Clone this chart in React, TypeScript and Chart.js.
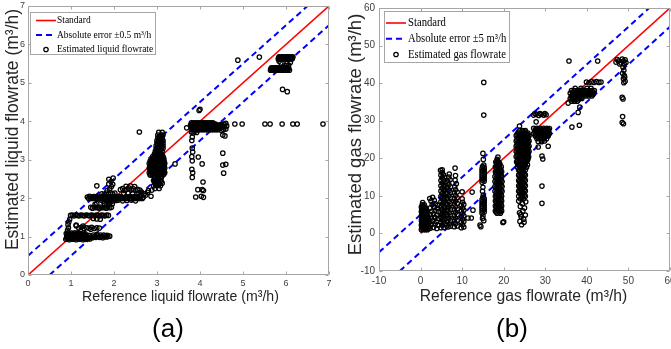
import React, { useEffect, useRef } from 'react';
import { Chart, registerables } from 'chart.js';

Chart.register(...registerables);

type Pt = [number, number];

// ================= Panel (a): liquid flowrate =================
const liqAxis = { min: 0, max: 7, step: 1 };
const liqStandard: Pt[] = [[0, 0], [7, 7]];
const liqErrUpper: Pt[] = [[0, 0.5], [6.5, 7]];
const liqErrLower: Pt[] = [[0.5, 0], [7, 6.5]];
const liqLabels = ['Standard', 'Absolute error ±0.5 m³/h', 'Estimated liquid flowrate'];

const liqGroup1: Pt[] = [
  [0.88, 0.93], [0.92, 0.96], [0.96, 0.92], [1.0, 0.95], [1.04, 0.93], [1.08, 0.96], [1.12, 0.92], [1.16, 0.95], [1.2, 0.93], [1.24, 0.96], [1.28, 0.92], [1.32, 0.95], [1.36, 0.93], [1.4, 0.96], [1.44, 0.94],
  [0.9, 1.01], [0.94, 1.03], [0.98, 0.99], [1.02, 1.02], [1.06, 1.0], [1.1, 1.03], [1.14, 0.99], [1.18, 1.02], [1.22, 1.0], [1.26, 1.03], [1.3, 0.99], [1.34, 1.02], [1.38, 1.0], [1.42, 1.03], [1.46, 0.99],
  [0.89, 1.08], [0.93, 1.1], [0.97, 1.07], [1.01, 1.09], [1.05, 1.07], [1.09, 1.1], [1.13, 1.07], [1.17, 1.09], [1.21, 1.08], [1.25, 1.06], [1.29, 1.09], [1.33, 1.07],
  [1.5, 0.97], [1.54, 1.0], [1.58, 0.98], [1.62, 1.01], [1.66, 0.98], [1.7, 1.0], [1.74, 0.97], [1.78, 1.01], [1.82, 0.99], [1.86, 1.0], [1.9, 1.01],
  [1.52, 1.04], [1.6, 1.05], [1.68, 1.04], [1.76, 1.04], [1.84, 1.03],
  [0.92, 1.16], [0.94, 1.23], [0.93, 1.31], [0.95, 1.38], [0.97, 1.45],
  [0.9, 0.965], [0.94, 0.965], [0.98, 0.965], [1.02, 0.965], [1.06, 0.965], [1.1, 0.965], [1.14, 0.965], [1.18, 0.965], [1.22, 0.965], [1.26, 0.965], [1.3, 0.965], [1.34, 0.965], [1.38, 0.965], [1.42, 0.965],
  [0.91, 1.045], [0.95, 1.045], [0.99, 1.045], [1.03, 1.045], [1.07, 1.045], [1.11, 1.045], [1.15, 1.045], [1.19, 1.045], [1.23, 1.045], [1.27, 1.045], [1.31, 1.045],
];
const liqGroup125: Pt[] = [
  [1.12, 1.28], [1.18, 1.22], [1.24, 1.24], [1.3, 1.21], [1.36, 1.23], [1.42, 1.22], [1.48, 1.24], [1.54, 1.21], [1.6, 1.23], [1.66, 1.22], [1.28, 1.27], [1.46, 1.19],
];
const liqGroup155: Pt[] = [
  [0.99, 1.55], [1.03, 1.56], [1.07, 1.54], [1.11, 1.56], [1.15, 1.55], [1.19, 1.54], [1.23, 1.56], [1.27, 1.55], [1.31, 1.54], [1.35, 1.56], [1.39, 1.55], [1.43, 1.54],
  [1.47, 1.56], [1.51, 1.55], [1.55, 1.54], [1.59, 1.56], [1.63, 1.55], [1.67, 1.54], [1.71, 1.56], [1.75, 1.55], [1.79, 1.54], [1.83, 1.56], [1.87, 1.55],
  [1.52, 1.47], [1.6, 1.46], [1.68, 1.45],
];
const liqGroup175: Pt[] = [
  [1.46, 1.76], [1.5, 1.74], [1.54, 1.77], [1.58, 1.75], [1.62, 1.76], [1.66, 1.74], [1.7, 1.77], [1.74, 1.75], [1.78, 1.76], [1.82, 1.74], [1.86, 1.77], [1.9, 1.75], [1.94, 1.76],
  [1.56, 1.84], [1.6, 1.86],
];
const liqGroup2: Pt[] = [
  [1.38, 2.03], [1.43, 2.05], [1.48, 2.02], [1.53, 2.04], [1.58, 2.03], [1.63, 2.05], [1.68, 2.02], [1.73, 2.04], [1.78, 2.03], [1.83, 2.05], [1.88, 2.02], [1.93, 2.04], [1.98, 2.03], [2.03, 2.05],
  [2.08, 2.02], [2.13, 2.04], [2.18, 2.03], [2.23, 2.01], [2.28, 2.04], [2.33, 2.02], [2.38, 2.05], [2.43, 2.02], [2.48, 2.04], [2.53, 2.03], [2.58, 2.01], [2.63, 2.04], [2.68, 2.02],
  [1.7, 1.95], [1.75, 1.92], [1.8, 1.96], [1.85, 1.93], [1.9, 1.95], [1.95, 1.92], [2.0, 1.96], [2.05, 1.94], [2.1, 1.95], [2.2, 1.93], [2.3, 1.94], [2.4, 1.95], [2.5, 1.93],
  [1.72, 2.11], [1.77, 2.09], [1.82, 2.13], [1.87, 2.1], [1.92, 2.14], [1.97, 2.11], [2.02, 2.13], [1.84, 2.2], [1.9, 2.24], [1.94, 2.3], [1.88, 2.37], [1.93, 2.43], [1.97, 2.36],
  [1.78, 1.86], [1.84, 1.84], [1.9, 1.87], [1.96, 1.85],
  [1.41, 1.99], [1.46, 1.99], [1.51, 1.99], [1.56, 1.99], [1.61, 1.99], [1.66, 1.99], [1.71, 1.99], [1.76, 1.99], [1.81, 1.99], [1.86, 1.99], [1.91, 1.99], [1.96, 1.99], [2.01, 1.99],
  [2.06, 1.99], [2.11, 1.99], [2.16, 1.99], [2.21, 1.99], [2.26, 1.99], [2.31, 1.99], [2.36, 1.99], [2.41, 1.99], [2.46, 1.99], [2.51, 1.99], [2.56, 1.99], [2.61, 1.99], [2.66, 1.99],
];
const liqGroup22: Pt[] = [
  [2.15, 2.22], [2.2, 2.25], [2.25, 2.2], [2.3, 2.23], [2.35, 2.26], [2.4, 2.21], [2.45, 2.24], [2.5, 2.2], [2.55, 2.23], [2.6, 2.21], [2.28, 2.31], [2.38, 2.32], [2.48, 2.3],
  [2.58, 2.14], [2.64, 2.16], [2.7, 2.11], [2.74, 2.08], [2.78, 2.15], [2.86, 2.05], [2.8, 2.2], [2.88, 2.21], [2.23, 2.12], [2.33, 2.13], [2.43, 2.12], [2.53, 2.12],
];
const liqGroup3: Pt[] = [
  [2.95, 2.25], [3.05, 2.25],
  [2.92, 2.32], [3.0, 2.32], [3.08, 2.32],
  [2.96, 2.39], [3.04, 2.39], [3.12, 2.39],
  [2.92, 2.46], [3.0, 2.46], [3.08, 2.46],
  [2.94, 2.53], [3.02, 2.53], [3.1, 2.53],
  [2.84, 2.6], [2.9, 2.6], [2.98, 2.6], [3.06, 2.6], [3.14, 2.6],
  [2.82, 2.66], [2.88, 2.66], [2.96, 2.66], [3.04, 2.66], [3.12, 2.66], [3.18, 2.66],
  [2.84, 2.72], [2.92, 2.72], [3.0, 2.72], [3.08, 2.72], [3.16, 2.72],
  [2.82, 2.78], [2.88, 2.78], [2.96, 2.78], [3.04, 2.78], [3.12, 2.78], [3.18, 2.78],
  [2.84, 2.84], [2.92, 2.84], [3.0, 2.84], [3.08, 2.84], [3.16, 2.84],
  [2.82, 2.9], [2.88, 2.9], [2.96, 2.9], [3.04, 2.9], [3.12, 2.9], [3.18, 2.9],
  [2.84, 2.96], [2.92, 2.96], [3.0, 2.96], [3.08, 2.96], [3.16, 2.96],
  [2.86, 3.02], [2.94, 3.02], [3.02, 3.02], [3.1, 3.02], [3.16, 3.02],
  [2.9, 3.08], [2.98, 3.08], [3.06, 3.08], [3.14, 3.08],
  [2.94, 3.15], [3.02, 3.15], [3.1, 3.15],
  [2.96, 3.22], [3.04, 3.22], [3.12, 3.22],
  [2.98, 3.29], [3.06, 3.29], [3.14, 3.29],
  [2.98, 3.36], [3.06, 3.36], [3.14, 3.36],
  [3.0, 3.43], [3.08, 3.43], [3.14, 3.43],
  [3.0, 3.5], [3.08, 3.5], [3.14, 3.5],
  [3.02, 3.57], [3.1, 3.57],
  [3.02, 3.64], [3.1, 3.64], [3.14, 3.64],
  [3.04, 3.71], [3.12, 3.71],
  [2.85, 2.63], [2.93, 2.63], [3.01, 2.63], [3.09, 2.63], [3.16, 2.63],
  [2.86, 2.69], [2.94, 2.69], [3.02, 2.69], [3.1, 2.69], [3.17, 2.69],
  [2.85, 2.75], [2.93, 2.75], [3.01, 2.75], [3.09, 2.75], [3.16, 2.75],
  [2.86, 2.81], [2.94, 2.81], [3.02, 2.81], [3.1, 2.81], [3.17, 2.81],
  [2.85, 2.87], [2.93, 2.87], [3.01, 2.87], [3.09, 2.87], [3.16, 2.87],
  [2.86, 2.93], [2.94, 2.93], [3.02, 2.93], [3.1, 2.93], [3.17, 2.93],
  [2.88, 2.99], [2.96, 2.99], [3.04, 2.99], [3.12, 2.99],
  [2.92, 3.05], [3.0, 3.05], [3.08, 3.05], [3.14, 3.05],
  [2.96, 3.12], [3.04, 3.12], [3.12, 3.12],
  [2.98, 3.19], [3.06, 3.19], [3.0, 3.26], [3.08, 3.26], [3.02, 3.33], [3.1, 3.33], [3.02, 3.4], [3.1, 3.4],
  [3.04, 3.47], [3.11, 3.47], [3.05, 3.54], [3.12, 3.54], [3.06, 3.61], [3.12, 3.61],
  [2.96, 2.36], [3.04, 2.36], [2.94, 2.43], [3.02, 2.43], [3.1, 2.43], [2.96, 2.5], [3.04, 2.5], [2.94, 2.56], [3.02, 2.56], [3.1, 2.56],
];
const liqGroup39: Pt[] = [
  [3.82, 3.78], [3.87, 3.78], [3.92, 3.78], [3.97, 3.78], [4.02, 3.78], [4.07, 3.78], [4.12, 3.78], [4.17, 3.78], [4.22, 3.78], [4.27, 3.78], [4.32, 3.78], [4.37, 3.78], [4.42, 3.78],
  [3.8, 3.84], [3.85, 3.84], [3.9, 3.84], [3.95, 3.84], [4.0, 3.84], [4.05, 3.84], [4.1, 3.84], [4.15, 3.84], [4.2, 3.84], [4.25, 3.84], [4.3, 3.84], [4.35, 3.84], [4.4, 3.84], [4.45, 3.84],
  [3.78, 3.9], [3.83, 3.9], [3.88, 3.9], [3.93, 3.9], [3.98, 3.9], [4.03, 3.9], [4.08, 3.9], [4.13, 3.9], [4.18, 3.9], [4.23, 3.9], [4.28, 3.9], [4.33, 3.9], [4.38, 3.9], [4.43, 3.9], [4.48, 3.9],
  [3.8, 3.96], [3.85, 3.96], [3.9, 3.96], [3.95, 3.96], [4.0, 3.96], [4.05, 3.96], [4.1, 3.96], [4.15, 3.96], [4.2, 3.96], [4.25, 3.96], [4.3, 3.96],
  [4.5, 3.76], [4.55, 3.78], [4.6, 3.8], [4.52, 3.84], [4.57, 3.86], [4.62, 3.88], [4.5, 3.92], [4.56, 3.93], [4.6, 3.95], [4.47, 3.83],
  [3.8, 3.72], [3.84, 3.7], [3.88, 3.74], [3.92, 3.71],
  [3.84, 3.81], [3.89, 3.81], [3.94, 3.81], [3.99, 3.81], [4.04, 3.81], [4.09, 3.81], [4.14, 3.81], [4.19, 3.81], [4.24, 3.81], [4.29, 3.81], [4.34, 3.81], [4.39, 3.81], [4.44, 3.81],
  [3.81, 3.87], [3.86, 3.87], [3.91, 3.87], [3.96, 3.87], [4.01, 3.87], [4.06, 3.87], [4.11, 3.87], [4.16, 3.87], [4.21, 3.87], [4.26, 3.87], [4.31, 3.87], [4.36, 3.87], [4.41, 3.87], [4.46, 3.87],
  [3.81, 3.93], [3.86, 3.93], [3.91, 3.93], [3.96, 3.93], [4.01, 3.93], [4.06, 3.93], [4.11, 3.93], [4.16, 3.93], [4.21, 3.93], [4.26, 3.93], [4.31, 3.93], [4.36, 3.93],
];
const liqGroup55: Pt[] = [
  [5.82, 5.62], [5.86, 5.62], [5.9, 5.62], [5.94, 5.62], [5.98, 5.62], [6.02, 5.62], [6.06, 5.62], [6.1, 5.62], [6.14, 5.62],
  [5.84, 5.68], [5.88, 5.68], [5.92, 5.68], [5.96, 5.68], [6.0, 5.68], [6.04, 5.68], [6.08, 5.68], [6.12, 5.68], [6.16, 5.68],
  [5.64, 5.33], [5.68, 5.33], [5.72, 5.33], [5.76, 5.33], [5.8, 5.33], [5.84, 5.33], [5.88, 5.33], [5.92, 5.33], [5.96, 5.33], [6.0, 5.33], [6.04, 5.33], [6.08, 5.33],
  [5.66, 5.39], [5.7, 5.39], [5.74, 5.39], [5.78, 5.39], [5.82, 5.39], [5.86, 5.39], [5.9, 5.39], [5.94, 5.39], [5.98, 5.39], [6.02, 5.39], [6.06, 5.39],
  [5.98, 5.45], [6.02, 5.5], [6.06, 5.46], [6.1, 5.53], [5.84, 5.56], [5.88, 5.52],
  [5.83, 5.65], [5.87, 5.65], [5.91, 5.65], [5.95, 5.65], [5.99, 5.65], [6.03, 5.65], [6.07, 5.65], [6.11, 5.65], [6.15, 5.65],
  [5.65, 5.36], [5.69, 5.36], [5.73, 5.36], [5.77, 5.36], [5.81, 5.36], [5.85, 5.36], [5.89, 5.36], [5.93, 5.36], [5.97, 5.36], [6.01, 5.36], [6.05, 5.36],
];
const liqOutliers: Pt[] = [
  [4.88, 5.59], [5.38, 5.67], [5.92, 4.83], [6.03, 4.77], [4.0, 4.31], [3.98, 4.28], [2.59, 3.72], [3.42, 2.89], [3.69, 3.83],
  [3.82, 3.59], [3.81, 3.5], [3.82, 3.3], [3.83, 3.2], [3.81, 3.08], [3.82, 2.97], [3.81, 2.75], [3.83, 2.66], [3.82, 2.54],
  [3.96, 3.07], [4.05, 2.89], [4.07, 2.42], [3.95, 2.22], [4.05, 2.22], [4.08, 2.2], [3.9, 2.03], [4.03, 2.05], [4.08, 2.02],
  [4.53, 3.64], [4.58, 3.62], [4.53, 3.17], [4.53, 2.86], [4.6, 2.88], [4.55, 2.65],
  [4.81, 3.93], [4.98, 3.93], [5.51, 3.93], [5.63, 3.93], [5.91, 3.93], [6.16, 3.93], [6.26, 3.93], [6.86, 3.93],
  [1.6, 2.32], [1.88, 2.49], [1.98, 2.52], [1.12, 1.3],
];
const liqPoints: Pt[] = [
  ...liqGroup1, ...liqGroup125, ...liqGroup155, ...liqGroup175, ...liqGroup2, ...liqGroup22,
  ...liqGroup3, ...liqGroup39, ...liqGroup55, ...liqOutliers,
];

// ================= Panel (b): gas flowrate =================
const gasAxis = { min: -10, max: 60, step: 10 };
const gasStandard: Pt[] = [[0, 0], [60, 60]];
const gasErrUpper: Pt[] = [[-10, -5], [55, 60]];
const gasErrLower: Pt[] = [[-5, -10], [60, 55]];
const gasLabels = ['Standard', 'Absolute error ±5 m³/h', 'Estimated gas flowrate'];

const gasGroup0: Pt[] = [
  [0.2, 1.0], [0.7, 1.0], [1.2, 1.0], [1.7, 1.0],
  [0.4, 1.6], [0.9, 1.6], [1.4, 1.6], [1.9, 1.6],
  [0.2, 2.2], [0.7, 2.2], [1.2, 2.2], [1.7, 2.2],
  [0.4, 2.8], [0.9, 2.8], [1.4, 2.8], [1.9, 2.8],
  [0.2, 3.4], [0.7, 3.4], [1.2, 3.4], [1.7, 3.4],
  [0.4, 4.0], [0.9, 4.0], [1.4, 4.0], [1.9, 4.0],
  [0.2, 4.6], [0.7, 4.6], [1.2, 4.6], [1.7, 4.6],
  [0.4, 5.2], [0.9, 5.2], [1.4, 5.2],
  [0.2, 5.8], [0.7, 5.8], [1.2, 5.8], [1.6, 5.8],
  [0.3, 6.4], [0.8, 6.4], [1.3, 6.4],
  [0.2, 7.0], [0.7, 7.0], [1.1, 7.0],
  [0.4, 7.6], [0.9, 7.6], [0.5, 8.2],
  [0.45, 1.3], [0.95, 1.3], [1.45, 1.3], [0.45, 1.9], [0.95, 1.9], [1.45, 1.9], [0.45, 2.5], [0.95, 2.5], [1.45, 2.5],
  [0.45, 3.1], [0.95, 3.1], [1.45, 3.1], [0.45, 3.7], [0.95, 3.7], [1.45, 3.7], [0.45, 4.3], [0.95, 4.3], [1.45, 4.3],
  [0.45, 4.9], [0.95, 4.9], [1.45, 4.9], [0.45, 5.5], [0.95, 5.5], [1.45, 5.5], [0.45, 6.1], [0.95, 6.1], [0.45, 6.7], [0.95, 6.7], [0.5, 7.3],
];
const gasGroup3: Pt[] = [
  [2.3, 1.4], [3.1, 1.6], [3.9, 1.3], [2.6, 2.3], [3.5, 2.5], [4.2, 2.2], [2.2, 3.2], [3.0, 3.4], [3.8, 3.1], [2.6, 4.1], [3.4, 4.3], [4.2, 4.0],
  [2.3, 5.0], [3.1, 5.2], [3.9, 4.9], [2.7, 5.9], [3.5, 6.1], [4.3, 5.8], [2.4, 6.8], [3.2, 7.0], [4.0, 6.7], [2.8, 7.7], [3.6, 7.9], [2.5, 8.6],
  [3.3, 8.8], [2.9, 9.6], [2.2, 9.3], [4.1, 7.5],
];
const gasGroup5: Pt[] = [
  [4.9, 1.5], [5.6, 1.6], [5.2, 2.2], [5.9, 2.3], [4.9, 2.9], [5.6, 3.0], [5.2, 3.6], [5.8, 3.7], [4.9, 4.3], [5.6, 4.4], [5.2, 5.0], [5.9, 5.1],
  [4.9, 5.7], [5.6, 5.8], [5.2, 6.4], [5.8, 6.5], [4.9, 7.1], [5.6, 7.2], [5.2, 7.8], [5.9, 7.9], [4.9, 8.5], [5.6, 8.6], [5.2, 9.2], [5.8, 9.3],
  [4.9, 9.9], [5.6, 10.0], [5.2, 10.6], [5.9, 10.7], [4.9, 11.3], [5.6, 11.4], [5.2, 12.0], [5.8, 12.1], [4.9, 12.7], [5.6, 12.8], [5.2, 13.4],
  [5.9, 13.5], [4.9, 14.1], [5.6, 14.2], [5.2, 14.8], [5.8, 14.9], [4.9, 15.5], [5.5, 15.6], [5.2, 16.2], [4.8, 16.8],
];
const gasGroup7: Pt[] = [
  [6.6, 1.7], [7.2, 1.9], [6.9, 2.5], [6.5, 3.2], [7.2, 3.4], [6.8, 4.0], [6.5, 4.7], [7.2, 4.9], [6.9, 5.5], [6.5, 6.2], [7.2, 6.4], [6.8, 7.0],
  [6.5, 7.7], [7.2, 7.9], [6.9, 8.5], [6.5, 9.2], [7.2, 9.4], [6.8, 10.0], [6.5, 10.7], [7.2, 10.9], [6.9, 11.5], [6.5, 12.2], [7.2, 12.4],
  [6.8, 13.0], [6.6, 13.7], [7.1, 14.3], [6.8, 15.0], [6.9, 15.8],
];
const gasGroup8: Pt[] = [
  [8.1, 1.8], [8.8, 2.0], [8.4, 2.6], [8.1, 3.3], [8.8, 3.5], [8.4, 4.1], [8.1, 4.8], [8.8, 5.0], [8.4, 5.6], [8.1, 6.3], [8.8, 6.5], [8.4, 7.1],
  [8.1, 7.8], [8.8, 8.0], [8.4, 8.6], [8.1, 9.3], [8.8, 9.5], [8.4, 10.1], [8.1, 10.8], [8.8, 11.0], [8.4, 11.6], [8.2, 12.4], [8.6, 13.2],
  [8.3, 14.2], [8.4, 15.4],
];
const gasGroup10: Pt[] = [
  [9.8, 1.5], [10.4, 1.7], [10.1, 2.3], [9.8, 3.0], [10.4, 3.2], [10.1, 3.8], [9.8, 4.5], [10.4, 4.7], [10.1, 5.3], [9.8, 6.0], [10.4, 6.2],
  [10.1, 6.8], [9.8, 7.5], [10.4, 7.7], [10.1, 8.3], [10.0, 9.2],
];
const gasGroup15: Pt[] = [
  [15.0, 21.3], [15.1, 19.7], [15.0, 12.3], [14.9, 11.2], [15.1, 10.2], [15.0, 4.6], [14.9, 4.0], [15.2, 3.4], [14.3, 2.2], [14.5, 1.8],
  [14.8, 13.6], [15.3, 13.9], [14.8, 14.2], [15.3, 14.5], [14.8, 14.8], [15.3, 15.1], [14.8, 15.4], [15.3, 15.7], [14.8, 16.0], [15.3, 16.3],
  [14.8, 16.6], [15.3, 16.9], [14.8, 17.2], [15.3, 17.5], [14.9, 17.8], [15.2, 18.2],
  [14.8, 5.4], [15.3, 5.7], [14.8, 6.0], [15.3, 6.3], [14.8, 6.6], [15.3, 6.9], [14.8, 7.2], [15.3, 7.5], [14.8, 7.8], [15.3, 8.1],
  [14.8, 8.4], [15.3, 8.7], [14.8, 9.0], [15.3, 9.3], [15.0, 9.6],
];
const gasGroup19: Pt[] = [
  [18.4, 5.4], [19.2, 5.4],
  [18.0, 6.0], [18.8, 6.0], [19.5, 6.0],
  [18.4, 6.7], [19.2, 6.7],
  [18.0, 7.3], [18.8, 7.3], [19.5, 7.3],
  [18.4, 8.0], [19.2, 8.0],
  [18.0, 8.6], [18.8, 8.6], [19.5, 8.6],
  [18.4, 9.3], [19.2, 9.3],
  [18.0, 9.9], [18.8, 9.9], [19.5, 9.9],
  [18.4, 10.6], [19.2, 10.6],
  [17.9, 11.2], [18.8, 11.2], [19.6, 11.2],
  [18.4, 11.9], [19.2, 11.9],
  [17.9, 12.5], [18.8, 12.5], [19.6, 12.5],
  [18.4, 13.2], [19.2, 13.2],
  [17.9, 13.8], [18.8, 13.8], [19.6, 13.8],
  [18.4, 14.5], [19.2, 14.5],
  [17.9, 15.1], [18.8, 15.1], [19.5, 15.1],
  [18.4, 15.8], [19.2, 15.8],
  [18.0, 16.4], [18.8, 16.4], [19.5, 16.4],
  [18.4, 17.1], [19.2, 17.1],
  [18.0, 17.7], [18.8, 17.7], [19.4, 17.7],
  [18.4, 18.4], [19.1, 18.4],
  [18.1, 19.0], [18.8, 19.0],
  [18.4, 19.7], [18.6, 20.3],
  [18.2, 5.7], [19.0, 5.7], [18.6, 6.35], [19.35, 6.35], [18.2, 7.0], [19.0, 7.0], [18.6, 7.65], [19.35, 7.65], [18.2, 8.3], [19.0, 8.3],
  [18.6, 8.95], [19.35, 8.95], [18.2, 9.6], [19.0, 9.6], [18.6, 10.25], [19.35, 10.25], [18.2, 10.9], [19.0, 10.9], [18.6, 11.55], [19.4, 11.55],
  [18.2, 12.2], [19.0, 12.2], [18.6, 12.85], [19.4, 12.85], [18.2, 13.5], [19.0, 13.5], [18.6, 14.15], [19.4, 14.15], [18.2, 14.8], [19.0, 14.8],
  [18.6, 15.45], [19.35, 15.45], [18.2, 16.1], [19.0, 16.1], [18.6, 16.75], [19.3, 16.75], [18.2, 17.4], [19.0, 17.4], [18.6, 18.05], [18.3, 18.7], [18.9, 18.7], [18.5, 19.35],
];
const gasGroup24: Pt[] = [
  [23.8, 27.4], [24.6, 27.4], [25.2, 27.4],
  [23.4, 26.7], [24.2, 26.7], [25.0, 26.7], [25.8, 26.7],
  [23.0, 26.0], [23.8, 26.0], [24.6, 26.0], [25.4, 26.0], [26.1, 26.0],
  [23.4, 25.3], [24.2, 25.3], [25.0, 25.3], [25.8, 25.3],
  [23.0, 24.6], [23.8, 24.6], [24.6, 24.6], [25.4, 24.6], [26.1, 24.6],
  [23.4, 23.9], [24.2, 23.9], [25.0, 23.9], [25.8, 23.9],
  [23.0, 23.2], [23.8, 23.2], [24.6, 23.2], [25.4, 23.2], [26.1, 23.2],
  [23.4, 22.5], [24.2, 22.5], [25.0, 22.5], [25.8, 22.5],
  [23.0, 21.8], [23.8, 21.8], [24.6, 21.8], [25.4, 21.8], [26.1, 21.8],
  [23.4, 21.1], [24.2, 21.1], [25.0, 21.1], [25.8, 21.1],
  [23.0, 20.4], [23.8, 20.4], [24.6, 20.4], [25.4, 20.4], [26.0, 20.4],
  [23.4, 19.7], [24.2, 19.7], [25.0, 19.7], [25.8, 19.7],
  [23.1, 19.0], [23.8, 19.0], [24.6, 19.0], [25.4, 19.0],
  [23.4, 18.3], [24.2, 18.3], [25.0, 18.3], [25.7, 18.3],
  [23.3, 17.6], [24.0, 17.6], [24.8, 17.6], [25.5, 17.6],
  [23.6, 16.9], [24.4, 16.9], [25.2, 16.9],
  [24.0, 16.2], [24.8, 16.2],
  [23.6, 15.5], [24.4, 15.5], [25.2, 15.5],
  [24.0, 14.8], [24.8, 14.8],
  [23.6, 14.1], [24.4, 14.1], [25.2, 14.1],
  [24.0, 13.4], [24.8, 13.4],
  [23.6, 12.7], [24.4, 12.7], [25.2, 12.7],
  [24.0, 12.0], [24.8, 12.0],
  [23.6, 11.3], [24.4, 11.3], [25.2, 11.3],
  [24.0, 10.6], [24.8, 10.6],
  [23.6, 9.9], [24.4, 9.9], [25.2, 9.9],
  [24.0, 9.2], [24.8, 9.2],
  [24.3, 2.3], [23.9, 3.2], [24.8, 3.8], [24.2, 4.4], [25.2, 4.9], [23.8, 5.5], [24.6, 6.0], [25.0, 6.8], [24.0, 7.2],
  [24.5, 7.9], [25.3, 8.4], [23.6, 8.6], [24.9, 3.0], [24.1, 5.0],
  [23.6, 27.0], [24.4, 27.0], [25.2, 27.0], [23.2, 26.35], [24.0, 26.35], [24.8, 26.35], [25.6, 26.35], [23.6, 25.65], [24.4, 25.65], [25.2, 25.65], [25.9, 25.65],
  [23.2, 24.95], [24.0, 24.95], [24.8, 24.95], [25.6, 24.95], [23.6, 24.25], [24.4, 24.25], [25.2, 24.25], [25.9, 24.25],
  [23.2, 23.55], [24.0, 23.55], [24.8, 23.55], [25.6, 23.55], [23.6, 22.85], [24.4, 22.85], [25.2, 22.85], [25.9, 22.85],
  [23.2, 22.15], [24.0, 22.15], [24.8, 22.15], [25.6, 22.15], [23.6, 21.45], [24.4, 21.45], [25.2, 21.45], [25.9, 21.45],
  [23.2, 20.75], [24.0, 20.75], [24.8, 20.75], [25.6, 20.75], [23.6, 20.05], [24.4, 20.05], [25.2, 20.05], [25.8, 20.05],
  [23.3, 19.35], [24.0, 19.35], [24.8, 19.35], [25.6, 19.35], [23.6, 18.65], [24.4, 18.65], [25.2, 18.65], [23.7, 18.0], [24.4, 18.0], [25.1, 18.0],
  [23.8, 16.55], [24.6, 16.55], [24.2, 15.85], [25.0, 15.85], [23.8, 15.15], [24.6, 15.15], [24.2, 14.45], [25.0, 14.45], [23.8, 13.75], [24.6, 13.75],
  [24.2, 13.05], [25.0, 13.05], [23.8, 12.35], [24.6, 12.35], [24.2, 11.65], [25.0, 11.65], [23.8, 10.95], [24.6, 10.95], [24.2, 10.25], [25.0, 10.25], [24.4, 9.55],
];
const gasGroup28: Pt[] = [
  [27.2, 28.0], [28.0, 28.0], [28.8, 28.0], [29.6, 28.0], [30.4, 28.0], [31.0, 27.9],
  [27.6, 27.3], [28.4, 27.3], [29.2, 27.3], [30.0, 27.3], [30.8, 27.3],
  [27.2, 26.6], [28.0, 26.6], [28.8, 26.6], [29.6, 26.6], [30.4, 26.6], [31.0, 26.6],
  [27.6, 25.9], [28.4, 25.9], [29.2, 25.9], [30.0, 25.9], [30.7, 25.9],
  [28.0, 25.2], [28.8, 25.2], [29.6, 25.2], [30.3, 25.2],
  [28.3, 24.5], [29.1, 24.4], [29.8, 24.6],
  [27.6, 27.65], [28.4, 27.65], [29.2, 27.65], [30.0, 27.65], [30.7, 27.65], [27.6, 26.95], [28.4, 26.95], [29.2, 26.95], [30.0, 26.95], [30.7, 26.95],
  [27.6, 26.25], [28.4, 26.25], [29.2, 26.25], [30.0, 26.25], [30.7, 26.25], [28.2, 25.55], [29.0, 25.55], [29.8, 25.55],
  [27.2, 31.5], [27.8, 31.7], [28.4, 31.4], [29.0, 31.7], [29.6, 31.5], [30.2, 31.6], [27.5, 31.9], [28.7, 31.9], [29.9, 31.9],
];
const gasGroup37: Pt[] = [
  [36.3, 35.2], [37.0, 35.2], [37.7, 35.2],
  [36.0, 35.9], [36.7, 35.9], [37.4, 35.9], [38.1, 35.9], [38.8, 35.9],
  [36.3, 36.6], [37.0, 36.6], [37.7, 36.6], [38.4, 36.6], [39.1, 36.6], [39.8, 36.6], [40.5, 36.6], [41.2, 36.6],
  [36.0, 37.3], [36.7, 37.3], [37.4, 37.3], [38.1, 37.3], [38.8, 37.3], [39.5, 37.3], [40.2, 37.3], [40.9, 37.3], [41.6, 37.3],
  [36.3, 38.0], [37.0, 38.0], [37.7, 38.0], [38.4, 38.0], [39.1, 38.0], [39.8, 38.0], [40.5, 38.0], [41.2, 38.0], [41.8, 38.0],
  [37.2, 38.6], [38.6, 38.6], [40.0, 38.6], [41.0, 38.6],
  [36.6, 35.55], [37.3, 35.55], [38.0, 35.55], [36.6, 36.25], [37.3, 36.25], [38.0, 36.25], [38.7, 36.25],
  [36.6, 36.95], [37.3, 36.95], [38.0, 36.95], [38.7, 36.95], [39.4, 36.95], [40.1, 36.95], [40.8, 36.95], [41.5, 36.95],
  [36.6, 37.65], [37.3, 37.65], [38.0, 37.65], [38.7, 37.65], [39.4, 37.65], [40.1, 37.65], [40.8, 37.65], [41.5, 37.65],
  [39.9, 40.3], [40.5, 40.1], [41.1, 40.4], [41.7, 40.2], [42.3, 40.4], [42.9, 40.2], [43.4, 40.3],
];
const gasGroup48: Pt[] = [
  [47.0, 45.6], [47.6, 45.9], [48.2, 45.4], [48.8, 45.9], [49.4, 45.5], [47.3, 46.3], [48.5, 46.4], [49.2, 46.2], [47.9, 45.1], [49.0, 45.0],
  [48.7, 44.2], [48.9, 43.4], [48.6, 42.6], [49.0, 42.0], [49.1, 41.6], [48.8, 41.2], [49.2, 40.5], [48.9, 40.1],
];
const gasOutliers: Pt[] = [
  [15.2, 40.2], [15.2, 31.5], [23.8, 28.6], [35.5, 34.7], [36.4, 28.3], [38.2, 28.8], [38.3, 33.6], [37.9, 32.2], [35.7, 45.9], [42.6, 45.9],
  [48.5, 36.2], [48.7, 35.8], [48.6, 31.1], [48.5, 29.5], [48.8, 29.2], [27.8, 29.7], [28.3, 23.0], [30.7, 23.2], [29.2, 20.6], [29.4, 19.8],
  [29.2, 12.6], [29.2, 8.0], [19.8, 2.9], [20.0, 3.1], [12.2, 4.1], [11.4, 4.1], [10.0, 11.1], [12.4, 11.0], [12.6, 6.2], [8.3, 17.4],
  [5.2, 16.9],
];
const gasPoints: Pt[] = [
  ...gasGroup0, ...gasGroup3, ...gasGroup5, ...gasGroup7, ...gasGroup8, ...gasGroup10, ...gasGroup15,
  ...gasGroup19, ...gasGroup24, ...gasGroup28, ...gasGroup37, ...gasGroup48, ...gasOutliers,
];

// ================= Plugins =================
const toXY = (arr: Pt[]) => arr.map(([x, y]) => ({ x, y }));

const frameTicksPlugin = {
  id: 'frameTicks',
  afterDatasetsDraw(chart: any, _a: any, o: any) {
    const { ctx, chartArea: a, scales } = chart;
    const len = o.length;
    const L = Math.round(a.left) + 0.5, R = Math.round(a.right) - 0.5;
    const T = Math.round(a.top) + 0.5, B = Math.round(a.bottom) - 0.5;
    ctx.save();
    ctx.strokeStyle = o.color;
    ctx.lineWidth = 1;
    ctx.beginPath();
    ctx.rect(L, T, R - L, B - T);
    scales.x.ticks.forEach((t: any) => {
      const px = Math.round(scales.x.getPixelForValue(t.value)) + 0.5;
      ctx.moveTo(px, B); ctx.lineTo(px, B - len);
      ctx.moveTo(px, T); ctx.lineTo(px, T + len);
    });
    scales.y.ticks.forEach((t: any) => {
      const py = Math.round(scales.y.getPixelForValue(t.value)) + 0.5;
      ctx.moveTo(L, py); ctx.lineTo(L + len, py);
      ctx.moveTo(R, py); ctx.lineTo(R - len, py);
    });
    ctx.stroke();
    ctx.restore();
  },
};

const boxLegendPlugin = {
  id: 'boxLegend',
  afterDraw(chart: any, _a: any, o: any) {
    const ctx = chart.ctx;
    ctx.save();
    ctx.fillStyle = '#ffffff';
    ctx.fillRect(o.left, o.top, o.width, o.height);
    ctx.strokeStyle = o.borderColor;
    ctx.lineWidth = 1;
    ctx.strokeRect(o.left + 0.5, o.top + 0.5, o.width - 1, o.height - 1);
    const items = chart.data.datasets.filter((d: any) => d.inLegend);
    items.forEach((d: any, i: number) => {
      const cy = o.top + o.firstRow + i * o.rowGap;
      const x0 = o.left + o.sampleX0, x1 = o.left + o.sampleX1;
      ctx.save();
      if (d.showLine) {
        ctx.strokeStyle = d.borderColor;
        ctx.lineWidth = d.borderWidth;
        ctx.setLineDash(d.borderDash || []);
        ctx.beginPath();
        ctx.moveTo(x0, cy); ctx.lineTo(x1, cy);
        ctx.stroke();
      } else {
        ctx.strokeStyle = d.borderColor;
        ctx.lineWidth = d.pointBorderWidth;
        ctx.beginPath();
        ctx.arc((x0 + x1) / 2, cy, d.pointRadius, 0, Math.PI * 2);
        ctx.stroke();
      }
      ctx.restore();
      ctx.save();
      ctx.translate(o.left + o.textX, cy);
      ctx.scale(o.sx, 1);
      ctx.font = o.font;
      ctx.fillStyle = '#000000';
      ctx.textAlign = 'left';
      ctx.textBaseline = 'middle';
      ctx.fillText(d.label, 0, 0);
      ctx.restore();
    });
    ctx.restore();
  },
};

const textsPlugin = {
  id: 'texts',
  afterDraw(chart: any, _a: any, o: any) {
    const ctx = chart.ctx;
    (o.items || []).forEach((it: any) => {
      ctx.save();
      ctx.translate(it.x, it.y);
      if (it.rotate) ctx.rotate(it.rotate);
      ctx.scale(it.sx || 1, 1);
      ctx.font = it.font;
      ctx.fillStyle = it.color;
      ctx.textAlign = 'center';
      ctx.textBaseline = 'middle';
      ctx.fillText(it.text, 0, 0);
      ctx.restore();
    });
  },
};

function makeConfig(p: any) {
  const lineBase = { showLine: true, pointRadius: 0, pointHoverRadius: 0, fill: false, order: 1 };
  return {
    type: 'scatter',
    data: {
      datasets: [
        { ...lineBase, label: p.labels[0], data: toXY(p.standard), borderColor: '#ff0000', borderWidth: 1.6, inLegend: true },
        { ...lineBase, label: p.labels[1], data: toXY(p.upper), borderColor: '#0000ff', borderWidth: 2, borderDash: [6, 4], inLegend: true },
        { ...lineBase, label: p.labels[1], data: toXY(p.lower), borderColor: '#0000ff', borderWidth: 2, borderDash: [6, 4], inLegend: false },
        {
          label: p.labels[2], data: toXY(p.points), showLine: false, pointRadius: 2.2, pointHoverRadius: 2.2, pointBorderWidth: 1.25,
          borderColor: '#000000', backgroundColor: 'rgba(0,0,0,0)', pointBackgroundColor: 'rgba(0,0,0,0)', order: 0, inLegend: true,
        },
      ],
    },
    options: {
      responsive: false,
      animation: false,
      events: [],
      layout: { padding: p.padding },
      plugins: {
        legend: { display: false },
        tooltip: { enabled: false },
        frameTicks: { color: '#a6a6a6', length: 3 },
        boxLegend: p.legend,
        texts: { items: p.texts },
      },
      scales: {
        x: {
          type: 'linear', min: p.axis.min, max: p.axis.max,
          ticks: { stepSize: p.axis.step, autoSkip: false, maxRotation: 0, padding: p.xTickPad, color: '#404040', font: { family: 'Liberation Sans', size: p.tickSize } },
          grid: { display: false, drawTicks: false },
          border: { display: false },
          afterFit: (s: any) => { s.height = p.xAxisH; s.paddingLeft = 0; s.paddingRight = 0; },
        },
        y: {
          type: 'linear', min: p.axis.min, max: p.axis.max,
          ticks: { stepSize: p.axis.step, autoSkip: false, padding: p.yTickPad, color: '#404040', font: { family: 'Liberation Sans', size: p.tickSize } },
          grid: { display: false, drawTicks: false },
          border: { display: false },
          afterFit: (s: any) => { s.width = p.yAxisW; s.paddingTop = 0; s.paddingBottom = 0; },
        },
      },
    },
    plugins: [frameTicksPlugin, boxLegendPlugin, textsPlugin],
  };
}

const liqPanel = {
  axis: liqAxis, standard: liqStandard, upper: liqErrUpper, lower: liqErrLower, points: liqPoints, labels: liqLabels,
  padding: { left: 0, top: 6, right: 6, bottom: 0 }, xAxisH: 74, yAxisW: 28, tickSize: 9, xTickPad: 3, yTickPad: 3,
  legend: { left: 30, top: 12, width: 126, height: 43, firstRow: 8.5, rowGap: 14.5, sampleX0: 6, sampleX1: 26, textX: 27, font: '11px "Liberation Serif"', sx: 0.86, borderColor: '#a6a6a6' },
  texts: [
    { text: 'Reference liquid flowrate (m³/h)', x: 180.5, y: 296.5, font: '15.5px "Liberation Sans"', color: '#262626', sx: 0.91 },
    { text: 'Estimated liquid flowrate (m³/h)', x: 13, y: 129.5, rotate: -Math.PI / 2, font: '17.5px "Liberation Sans"', color: '#262626' },
    { text: '(a)', x: 168, y: 330, font: '26px "Liberation Sans"', color: '#000000' },
  ],
};

const gasPanel = {
  axis: gasAxis, standard: gasStandard, upper: gasErrUpper, lower: gasErrLower, points: gasPoints, labels: gasLabels,
  padding: { left: 0, top: 8, right: 15, bottom: 0 }, xAxisH: 78, yAxisW: 44, tickSize: 10, xTickPad: 4, yTickPad: 4,
  legend: { left: 49, top: 11, width: 126, height: 52, firstRow: 12, rowGap: 15.75, sampleX0: 2, sampleX1: 22, textX: 24, font: '12px "Liberation Serif"', sx: 0.89, borderColor: '#a6a6a6' },
  texts: [
    { text: 'Reference gas flowrate (m³/h)', x: 188.5, y: 296.5, font: '16px "Liberation Sans"', color: '#262626', sx: 0.98 },
    { text: 'Estimated gas flowrate (m³/h)', x: 20.5, y: 134.5, rotate: -Math.PI / 2, font: '18.5px "Liberation Sans"', color: '#262626' },
    { text: '(b)', x: 177, y: 330, font: '26px "Liberation Sans"', color: '#000000' },
  ],
};

export default function App() {
  const refA = useRef<HTMLCanvasElement | null>(null);
  const refB = useRef<HTMLCanvasElement | null>(null);

  useEffect(() => {
    const a = new Chart(refA.current as HTMLCanvasElement, makeConfig(liqPanel) as any);
    const b = new Chart(refB.current as HTMLCanvasElement, makeConfig(gasPanel) as any);
    return () => { a.destroy(); b.destroy(); };
  }, []);

  return (
    <div style={{ position: 'fixed', left: 0, top: 0, width: 671, height: 349, overflow: 'hidden', background: '#ffffff' }}>
      <canvas ref={refA} width={335} height={349} style={{ position: 'absolute', left: 0, top: 0, width: 335, height: 349 }} />
      <canvas ref={refB} width={350} height={349} style={{ position: 'absolute', left: 335, top: 0, width: 350, height: 349 }} />
    </div>
  );
}
